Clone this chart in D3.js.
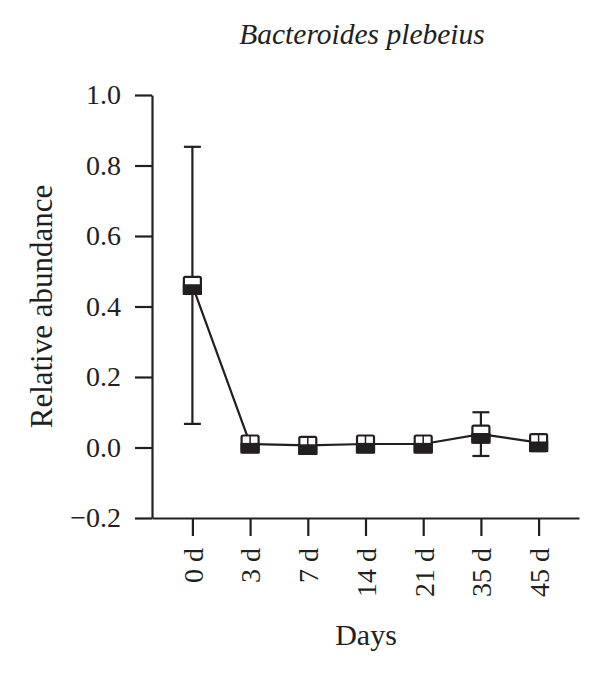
<!DOCTYPE html>
<html>
<head>
<meta charset="utf-8">
<script src="https://cdn.jsdelivr.net/npm/d3@7"></script>
<style>
    body { margin: 0; background: #fff; }
    text { font-family: "Liberation Serif", "DejaVu Serif", serif; fill: #231f20; }
    .axis path, .axis line { stroke: #231f20; stroke-width: 2.2; }
</style>
</head>
<body>
<div class="chart"></div>
<script>
// values
let days = ["0 d", "3 d", "7 d", "14 d", "21 d", "35 d", "45 d"]
let means = [0.46, 0.010, 0.006, 0.010, 0.010, 0.038, 0.014]
let errors = [0.393, 0.004, 0.006, 0.004, 0.004, 0.062, 0.004]
let yTicks = [-0.2, 0.0, 0.2, 0.4, 0.6, 0.8, 1.0]

const color = "#231f20"

const width = 600
const height = 675
const margin = { top: 95, right: 21, bottom: 157, left: 152 }

const svg = d3.select('.chart')
    .append('svg')
    .attr('width', width)
    .attr('height', height)

const xScale = d3.scalePoint()
    .domain(days)
    .range([margin.left, width - margin.right])
    .padding(0.7)

const yScale = d3.scaleLinear()
    .domain([-0.2, 1.0])
    .range([height - margin.bottom, margin.top])

// Axes
const xAxis = d3.axisBottom(xScale)
    .tickSizeInner(18)
    .tickSizeOuter(0)

const xAxisDraw = svg.append('g')
    .attr('class', 'x axis')
    .attr('transform', `translate(0, ${height - margin.bottom})`)
    .call(xAxis)

xAxisDraw.selectAll('text')
    .attr('transform', 'rotate(-90)')
    .attr('x', -30)
    .attr('y', 0)
    .attr('dy', '0.35em')
    .style('text-anchor', 'end')
    .style('font-size', '28px')

const yAxis = d3.axisLeft(yScale)
    .tickValues(yTicks)
    .tickFormat(d => d < 0 ? '\u2212' + d3.format('.1f')(-d) : d3.format('.1f')(d))
    .tickSizeInner(17)
    .tickSizeOuter(0)
    .tickPadding(14)

const yAxisDraw = svg.append('g')
    .attr('class', 'y axis')
    .attr('transform', `translate(${margin.left}, 0)`)
    .call(yAxis)

yAxisDraw.selectAll('text').style('font-size', '28px')
svg.selectAll('.axis text').style('font-family', '"Liberation Serif", serif').attr('fill', color)

// Labels
svg.append('text')
    .text('Bacteroides plebeius')
    .attr('x', 362)
    .attr('y', 44)
    .attr('text-anchor', 'middle')
    .style('font-style', 'italic')
    .style('font-size', '29.5px')

svg.append('text')
    .text('Relative abundance')
    .attr('transform', `translate(52, ${yScale(0.4)}) rotate(-90)`)
    .attr('text-anchor', 'middle')
    .style('font-size', '31px')

svg.append('text')
    .text('Days')
    .attr('x', 366)
    .attr('y', 645)
    .attr('text-anchor', 'middle')
    .style('font-size', '30px')

// Data
const data = days.map((d, i) => ({ day: d, mean: means[i], err: errors[i] }))

const line = d3.line()
    .x(d => xScale(d.day))
    .y(d => yScale(d.mean))

svg.append('path')
    .datum(data)
    .attr('d', line)
    .attr('fill', 'none')
    .attr('stroke', color)
    .attr('stroke-width', 2.2)

// error bars
const cap = 8.5
const errBars = svg.append('g').attr('class', 'errors')
    .selectAll('g')
    .data(data.filter(d => d.err > 0.02))
    .join('g')
    .attr('stroke', color)
    .attr('stroke-width', 2.2)

errBars.append('line')
    .attr('x1', d => xScale(d.day))
    .attr('x2', d => xScale(d.day))
    .attr('y1', d => yScale(d.mean + d.err))
    .attr('y2', d => yScale(d.mean - d.err))

errBars.append('line')
    .attr('x1', d => xScale(d.day) - cap)
    .attr('x2', d => xScale(d.day) + cap)
    .attr('y1', d => yScale(d.mean + d.err))
    .attr('y2', d => yScale(d.mean + d.err))

errBars.append('line')
    .attr('x1', d => xScale(d.day) - cap)
    .attr('x2', d => xScale(d.day) + cap)
    .attr('y1', d => yScale(d.mean - d.err))
    .attr('y2', d => yScale(d.mean - d.err))

// markers: open square with the lower part filled
const size = 17
const markers = svg.append('g').attr('class', 'markers')
    .selectAll('g')
    .data(data)
    .join('g')
    .attr('transform', d => `translate(${xScale(d.day)}, ${yScale(d.mean)})`)

markers.append('rect')
    .attr('x', -size / 2)
    .attr('y', -size / 2)
    .attr('width', size)
    .attr('height', size)
    .attr('fill', '#fff')
    .attr('stroke', color)
    .attr('stroke-width', 2.2)
    .attr('rx', 1.5)

markers.append('rect')
    .attr('x', -size / 2)
    .attr('y', 0)
    .attr('width', size)
    .attr('height', size / 2)
    .attr('fill', color)
    .attr('stroke', color)
    .attr('stroke-width', 2.2)

markers.filter(d => d.err <= 0.02)
    .append('line')
    .attr('x1', 0)
    .attr('x2', 0)
    .attr('y1', -size / 2)
    .attr('y2', 0)
    .attr('stroke', color)
    .attr('stroke-width', 1.5)
</script>
</body>
</html>
